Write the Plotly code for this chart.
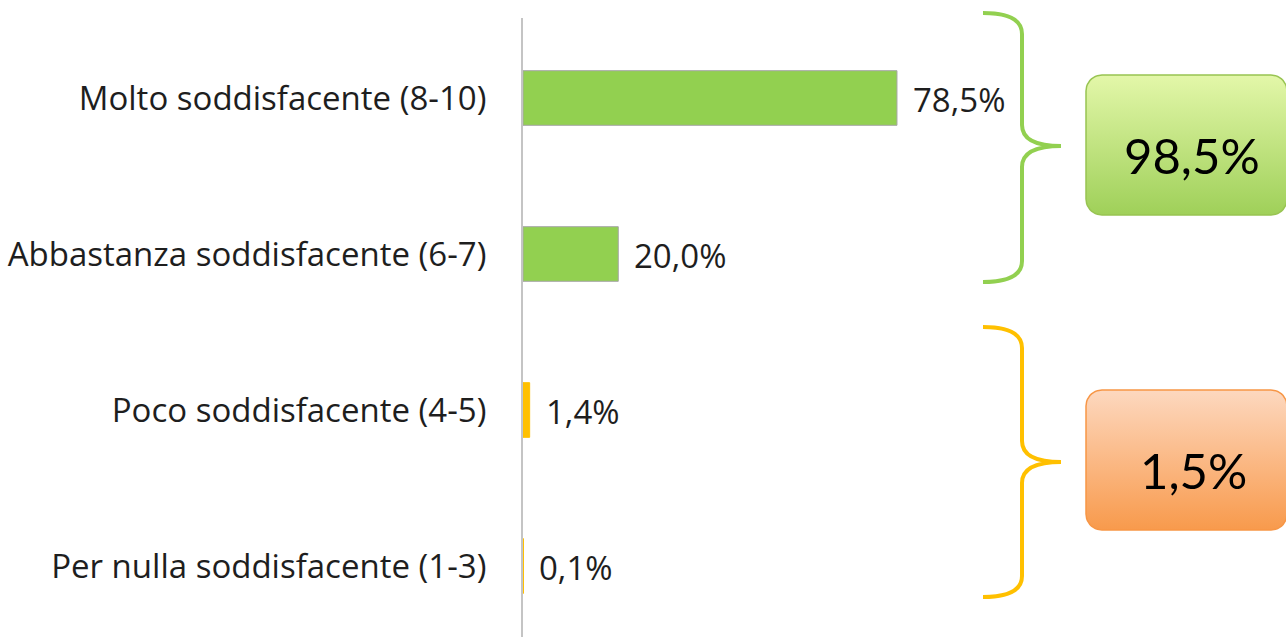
import numpy as np
import plotly.graph_objects as go

categories = ["Molto soddisfacente (8-10)", "Abbastanza soddisfacente (6-7)",
              "Poco soddisfacente (4-5)", "Per nulla soddisfacente (1-3)"]
values = [78.5, 20.0, 1.4, 0.1]
bar_colors = ["#92d050", "#92d050", "#ffc000", "#ffc000"]
group_labels = ["98,5%", "1,5%"]

OFF = 0  # body margin removed via post_script
# plot area in reference pixels
PL, PT, PR, PB = 523, 18, 1286, 637
W, H = PR - OFF, PB - OFF
L, T = PL - OFF, PT - OFF
R, B = 0, 0
PX_PER_PCT = 4.764
x_max = (PR - PL) / PX_PER_PCT
ROW = 156.0           # px between category centres
TOP_C = 98.0          # px of first category centre
y_top = -(TOP_C - PT) / ROW
y_bot = 3 + (PB - (TOP_C + 3 * ROW)) / ROW

FONT = "'Open Sans', sans-serif"
BIGFONT = "Lato, sans-serif"
TXT = "#1e1e1e"

fig = go.Figure()
fig.add_trace(go.Bar(
    x=values, y=categories, orientation="h", width=0.35,
    marker=dict(color=bar_colors, line=dict(color=["#a6a6a6", "#a6a6a6", "#ffc000", "#ffc000"], width=1)),
    hoverinfo="skip", showlegend=False,
))

def fmt(v):
    return f"{v:.1f}".replace(".", ",") + "%"

for c, v in zip(categories, values):
    fig.add_annotation(x=v, y=c, xref="x", yref="y", text=fmt(v), showarrow=False,
                       xanchor="left", yanchor="middle", xshift=14, yshift=-1,
                       font=dict(family=FONT, size=33, color=TXT))

# reference-pixel -> paper helpers
def px(xp):
    return (xp - PL) / (PR - PL)

def py(yp):
    return (PB - yp) / (PB - PT)

def brace(x0, xv, xp, ytop, ymid, ybot, r):
    return (f"M {px(x0)},{py(ytop)} Q {px(xv)},{py(ytop)} {px(xv)},{py(ytop + r)} "
            f"L {px(xv)},{py(ymid - r)} Q {px(xv)},{py(ymid)} {px(xp)},{py(ymid)} "
            f"Q {px(xv)},{py(ymid)} {px(xv)},{py(ymid + r)} "
            f"L {px(xv)},{py(ybot - r)} Q {px(xv)},{py(ybot)} {px(x0)},{py(ybot)}")

fig.add_shape(type="path", xref="paper", yref="paper",
              path=brace(983, 1022, 1061, 13, 146, 282, 21),
              line=dict(color="#92d050", width=4))
fig.add_shape(type="path", xref="paper", yref="paper",
              path=brace(983, 1022, 1061, 327, 462, 597, 21),
              line=dict(color="#ffc000", width=4))

def rounded_rect(x0, x1, y0, y1, r, n=12):
    xs, ys = [], []
    corners = [(x1 - r, y0 + r, -np.pi / 2, 0), (x1 - r, y1 - r, 0, np.pi / 2),
               (x0 + r, y1 - r, np.pi / 2, np.pi), (x0 + r, y0 + r, np.pi, 1.5 * np.pi)]
    for cx, cy, a0, a1 in corners:
        t = np.linspace(a0, a1, n)
        xs += list(cx + r * np.cos(t))
        ys += list(cy + r * np.sin(t))
    xs.append(xs[0]); ys.append(ys[0])
    return xs, ys

boxes = [
    (1086, 1287, 75, 215, "#e3f7a9", "#9fd059", "#98c452"),
    (1086, 1287, 390, 530, "#fdd8bf", "#f89a4c", "#f79646"),
]
for x0, x1, y0, y1, ctop, cbot, cline in boxes:
    xs, ys = rounded_rect(x0, x1, y0, y1, 16)
    fig.add_trace(go.Scatter(
        x=xs, y=ys, xaxis="x2", yaxis="y2", mode="lines", fill="toself",
        fillgradient=dict(type="vertical", colorscale=[[0, cbot], [1, ctop]]),
        line=dict(color=cline, width=1.5), hoverinfo="skip", showlegend=False))

for lab, xc, yc in zip(group_labels, [1192, 1193], [155, 470]):
    fig.add_annotation(x=px(xc), y=py(yc), xref="paper", yref="paper", text=lab,
                       showarrow=False, xanchor="center", yanchor="middle",
                       font=dict(family=BIGFONT, size=49, color="#000000"))

fig.update_layout(
    width=W, height=H, margin=dict(l=L, r=R, t=T, b=B, pad=0),
    paper_bgcolor="white", plot_bgcolor="white",
    xaxis=dict(range=[0, x_max], visible=False, fixedrange=True),
    yaxis=dict(categoryorder="array", categoryarray=categories,
               range=[y_bot, y_top], showline=True, linecolor="#c4c4c4", linewidth=2,
               showgrid=False, zeroline=False, ticks="", ticklabelstandoff=28,
               tickfont=dict(family=FONT, size=33, color=TXT)),
    xaxis2=dict(range=[PL, PR], overlaying="x", visible=False, fixedrange=True),
    yaxis2=dict(range=[PB, PT], overlaying="y", visible=False, fixedrange=True),
)

fig.write_html("out.html", config={"displayModeBar": False},
               post_script="document.body.style.margin='0';document.body.style.overflow='hidden';")
